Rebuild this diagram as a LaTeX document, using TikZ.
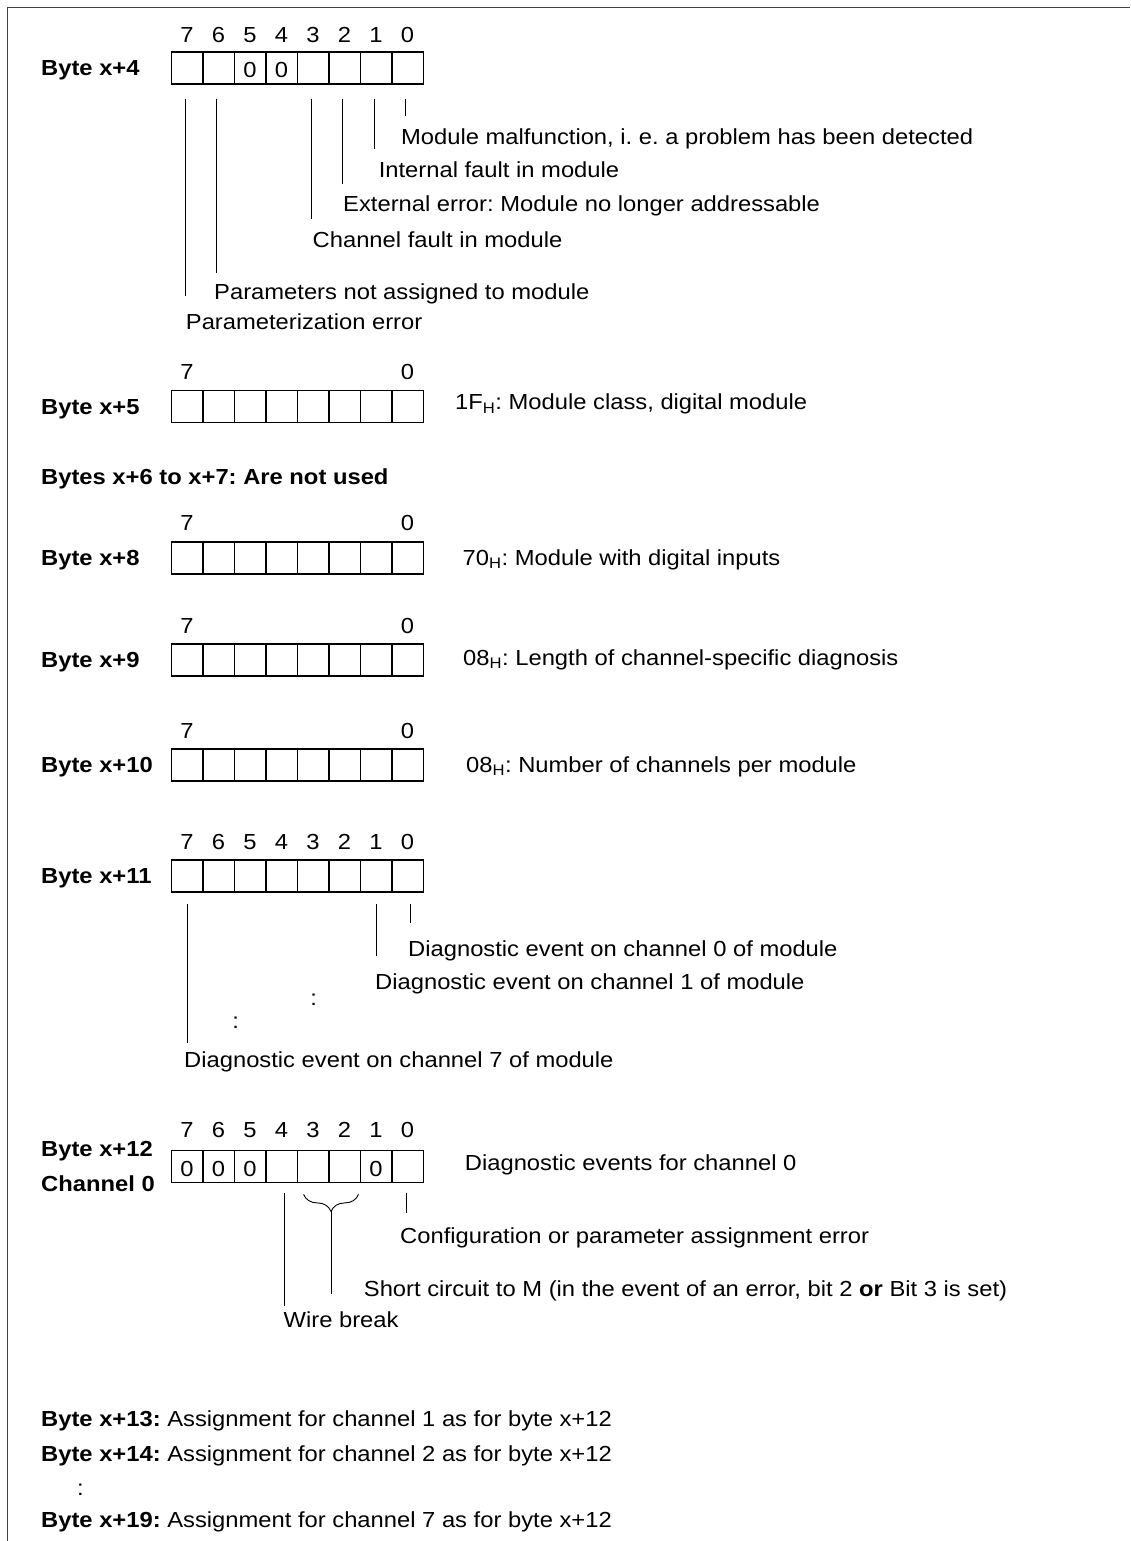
\documentclass[tikz,border=0pt]{standalone}
\usepackage{fontspec}
\setmainfont{Liberation Sans}[FakeStretch=1.09]
\usetikzlibrary{positioning,calc,decorations.pathreplacing}

\newcommand\figfont{\fontsize{21.8}{26}\selectfont\frenchspacing}

\begin{document}
\begin{tikzpicture}[x=1pt,y=-1pt,
    cell/.style={draw, line width=1.4pt, minimum width=31.5pt, minimum height=32pt,
      inner sep=0pt, text height=20pt, text depth=0pt, font=\figfont},
    txt/.style={anchor=west, inner sep=0pt, text height=15.6pt, text depth=0pt, font=\figfont},
    head/.style={txt, font=\figfont\bfseries},
    bitno/.style={inner sep=0pt, text height=15.6pt, text depth=0pt, font=\figfont},
    leader/.style={line width=0.9pt},
    frame/.style={line width=1.4pt, black!75}]
\useasboundingbox (0,0) rectangle (1130,1541);

% page frame, left and top edge only
\draw[frame] (7.5,1541) -- (7.5,7.3) -- (1130,7.3);

% one register of 8 bit cells, named <name>-<bit>
\def\bytereg#1#2#3{%
  \foreach \bit/\val [count=\i from 0] in {#3}
    \node[cell] (#1-\bit) at ({171.3+31.5*(\i+0.5)},#2) {\val};}

% Byte x+4
\node[head] (l4) at (41,68) {Byte x+4};
\bytereg{b4}{68}{7/{},6/{},5/0,4/0,3/{},2/{},1/{},0/{}}
\foreach \bit in {7,...,0}
  \node[bitno] at ([yshift=16.5pt]b4-\bit.north) {\bit};
\foreach \bit/\len in {7/197,6/174,3/120,2/85,1/50,0/17}
  \draw[leader] ([xshift=-2pt]b4-\bit.south) ++(0,14) -- ++(0,\len);
\node[txt] (m0) at (401,136.7) {Module malfunction, i. e. a problem has been detected};
\node[txt] (m1) at (378.6,170) {Internal fault in module};
\node[txt] (m2) at (343,203.3) {External error: Module no longer addressable};
\node[txt] (m3) at (312.5,240) {Channel fault in module};
\node[txt] (m6) at (214,292) {Parameters not assigned to module};
\node[txt] (m7) at (185.7,322) {Parameterization error};

% Byte x+5
\node[head] (l5) at (41,406.7) {Byte x+5};
\bytereg{b5}{406.7}{7/{},6/{},5/{},4/{},3/{},2/{},1/{},0/{}}
\foreach \bit in {7,0}
  \node[bitno] at ([yshift=18pt]b5-\bit.north) {\bit};
\node[txt] (d5) at (455,402) {1F\textsubscript{H}: Module class, digital module};

\node[head] (l67) at (41,476.7) {Bytes x+6 to x+7: Are not used};

% Byte x+8
\node[head] (l8) at (41,558) {Byte x+8};
\bytereg{b8}{558}{7/{},6/{},5/{},4/{},3/{},2/{},1/{},0/{}}
\foreach \bit in {7,0}
  \node[bitno] at ([yshift=18.5pt]b8-\bit.north) {\bit};
\node[txt] (d8) at (462.5,557.5) {70\textsubscript{H}: Module with digital inputs};

% Byte x+9
\node[head] (l9) at (41,660) {Byte x+9};
\bytereg{b9}{660}{7/{},6/{},5/{},4/{},3/{},2/{},1/{},0/{}}
\foreach \bit in {7,0}
  \node[bitno] at ([yshift=17.5pt]b9-\bit.north) {\bit};
\node[txt] (d9) at (463,657.5) {08\textsubscript{H}: Length of channel-specific diagnosis};

% Byte x+10
\node[head] (l10) at (41,765) {Byte x+10};
\bytereg{b10}{765}{7/{},6/{},5/{},4/{},3/{},2/{},1/{},0/{}}
\foreach \bit in {7,0}
  \node[bitno] at ([yshift=17.5pt]b10-\bit.north) {\bit};
\node[txt] (d10) at (466,764.5) {08\textsubscript{H}: Number of channels per module};

% Byte x+11
\node[head] (l11) at (41,876) {Byte x+11};
\bytereg{b11}{876}{7/{},6/{},5/{},4/{},3/{},2/{},1/{},0/{}}
\foreach \bit in {7,...,0}
  \node[bitno] at ([yshift=17.5pt]b11-\bit.north) {\bit};
\draw[leader] (b11-7.south) ++(0,11) -- ++(0,139);
\draw[leader] (b11-1.south) ++(0,11) -- ++(0,52);
\draw[leader] ([xshift=2.5pt]b11-0.south) ++(0,11) -- ++(0,19);
\node[txt] (c0) at (408,948.3) {Diagnostic event on channel 0 of module};
\node[txt] (c1) at (375,981.7) {Diagnostic event on channel 1 of module};
\node[bitno] at (313.6,998) {:};
\node[bitno] at (235.7,1020.7) {:};
\node[txt] (c7) at (184,1060) {Diagnostic event on channel 7 of module};

% Byte x+12, channel 0
\node[head] (l12) at (41,1148.3) {Byte x+12};
\node[head] (ch0) at (41,1183.3) {Channel 0};
\bytereg{b12}{1166.2}{7/0,6/0,5/0,4/{},3/{},2/{},1/0,0/{}}
\foreach \bit in {7,...,0}
  \node[bitno] at ([yshift=19.5pt]b12-\bit.north) {\bit};
\node[txt] (d12) at (464.7,1163) {Diagnostic events for channel 0};
\draw[leader] ([xshift=-1.5pt]b12-0.south) ++(0,10) -- ++(0,20);
\draw[leader] ([xshift=3pt]b12-4.south) ++(0,10) -- ++(0,113);
\coordinate (br1) at ([xshift=-2.5pt,yshift=-11.5pt]b12-2.south east);
\coordinate (br2) at ([xshift=7pt,yshift=-11.5pt]b12-3.south west);
\draw[leader, decorate, decoration={brace, amplitude=17pt}] (br1) -- (br2);
\coordinate (bm) at ($(br1)!0.5!(br2)$);
\draw[leader] (bm) ++(0,17) -- ++(0,83);
\node[txt] (cfg) at (400,1236) {Configuration or parameter assignment error};
\node[txt] (sc) at (363.7,1288.3) {Short circuit to M (in the event of an error, bit 2 \textbf{or} Bit 3 is set)};
\node[txt] (wb) at (283.5,1320) {Wire break};

% remaining channel bytes
\node[txt] (r13) at (41,1418.3) {\textbf{Byte x+13:} Assignment for channel 1 as for byte x+12};
\node[txt] (r14) at (41,1453.3) {\textbf{Byte x+14:} Assignment for channel 2 as for byte x+12};
\node[bitno] at (80.4,1488) {:};
\node[txt] (r19) at (41,1520) {\textbf{Byte x+19:} Assignment for channel 7 as for byte x+12};
\end{tikzpicture}
\end{document}
